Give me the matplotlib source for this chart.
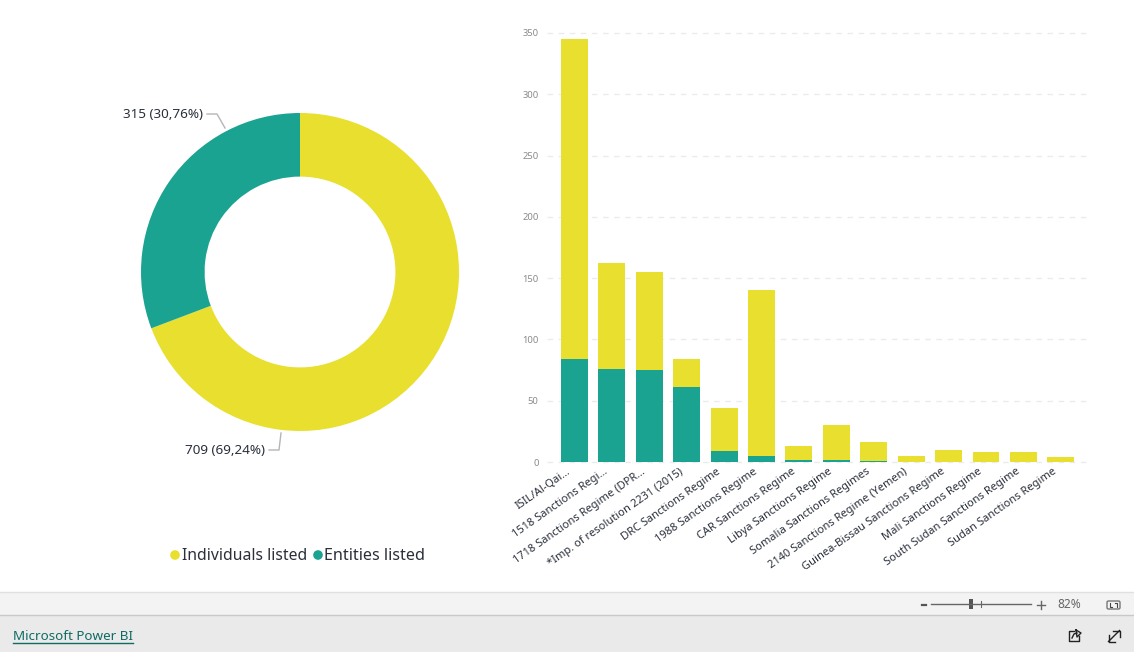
"""Power BI sanctions dashboard: donut + stacked columns."""
import matplotlib
matplotlib.use("Agg")
import matplotlib.pyplot as plt
from matplotlib.patches import FancyBboxPatch
from matplotlib.patches import Rectangle
from matplotlib.transforms import ScaledTranslation

plt.rcParams["font.family"] = ["Noto Sans", "DejaVu Sans"]

W, H = 1134, 652
YELLOW = "#E9DF2F"
TEAL = "#1BA392"
TEXT = "#2a2f3a"

regimes = [
    "ISIL/Al-Qai...", "1518 Sanctions Regi...", "1718 Sanctions Regime (DPR...",
    "*Imp. of resolution 2231 (2015)", "DRC Sanctions Regime", "1988 Sanctions Regime",
    "CAR Sanctions Regime", "Libya Sanctions Regime", "Somalia Sanctions Regimes",
    "2140 Sanctions Regime (Yemen)", "Guinea-Bissau Sanctions Regime", "Mali Sanctions Regime",
    "South Sudan Sanctions Regime", "Sudan Sanctions Regime",
]
entities = [84, 76, 75, 61, 9, 5, 2, 2, 1, 0, 0, 0, 0, 0]
individuals = [261, 86, 80, 23, 35, 135, 11, 28, 15, 5, 10, 8, 8, 4]
y_ticks = [0, 50, 100, 150, 200, 250, 300, 350]

donut_values = [709, 315]
donut_labels = ["709 (69,24%)", "315 (30,76%)"]
donut_names = ["Individuals listed", "Entities listed"]


def px_axes(fig, left, top, right, bottom):
    return fig.add_axes([left / W, 1 - bottom / H, (right - left) / W, (bottom - top) / H])


fig = plt.figure(figsize=(W / 100, H / 100), dpi=100, facecolor="white")

# overlay in pixel coords for chrome, legend and leader lines
ov = fig.add_axes([0, 0, 1, 1], zorder=5)
ov.set_xlim(0, W)
ov.set_ylim(H, 0)
ov.axis("off")

# donut
ax = px_axes(fig, 141, 112.5, 459, 431.5)
ax.pie(donut_values, colors=[YELLOW, TEAL], startangle=90, counterclock=False, radius=1.0,
       wedgeprops={"width": 0.4})
ax.set_xlim(-1, 1)
ax.set_ylim(-1, 1)

ov.plot([207, 217, 225], [114, 114, 128], color="#b5b5b5", lw=1)
ov.plot([269, 279, 281], [450, 450, 433], color="#b5b5b5", lw=1)
ov.text(203, 114, donut_labels[1], ha="right", va="center", fontsize=9.7, color=TEXT)
ov.text(265, 451, donut_labels[0], ha="right", va="center", fontsize=9.7, color=TEXT)

# legend
ov.scatter([175, 318], [555, 555], s=48, color=[YELLOW, TEAL], linewidths=0)
ov.text(182, 556, donut_names[0], ha="left", va="center", fontsize=11.3, color=TEXT)
ov.text(324, 556, donut_names[1], ha="left", va="center", fontsize=11.6, color=TEXT)

# columns
bx = px_axes(fig, 547, 33, 1090, 462)
x = list(range(len(regimes)))
bx.bar(x, entities, width=0.72, color=TEAL, zorder=3)
bx.bar(x, individuals, width=0.72, bottom=entities, color=YELLOW, zorder=3)
bx.set_xlim(-0.735, 13.78)
bx.set_ylim(0, 350)
bx.set_yticks(y_ticks)
bx.set_yticklabels([str(t) for t in y_ticks], fontsize=6.8, color="#8a8a8a")
bx.set_xticks(x)
bx.set_xticklabels(regimes, rotation=35, ha="right", rotation_mode="anchor",
                   fontsize=8.0, color=TEXT)
bx.tick_params(axis="both", length=0)
bx.tick_params(axis="x", pad=3)
bx.tick_params(axis="y", pad=6)
bx.grid(axis="y", color="#ebebeb", lw=1, ls=(0, (4, 4)), zorder=0)
bx.set_axisbelow(True)
for s in bx.spines.values():
    s.set_visible(False)
for gl in bx.get_ygridlines():
    gl.set_clip_on(False)

# reference labels end a little left of the column centre
shift = ScaledTranslation(-8 / 100, 0, fig.dpi_scale_trans)
for lab in bx.get_xticklabels():
    lab.set_transform(lab.get_transform() + shift)

# bottom chrome
ov.add_patch(Rectangle((0, 592), W, 23, fc="#f3f3f3", ec="none"))
ov.add_patch(Rectangle((0, 615), W, 37, fc="#eaeaea", ec="none"))
ov.plot([0, W], [592, 592], color="#e0e0e0", lw=1)
ov.plot([0, W], [615, 615], color="#c8c8c8", lw=1)

ov.text(13, 636, "Microsoft Power BI", ha="left", va="center", fontsize=9.7, color="#0f6b63")
ov.plot([13, 133], [643, 643], color="#0f6b63", lw=1)

# zoom control
ov.plot([931, 1031], [604, 604], color="#666666", lw=1)
ov.plot([981, 981], [601, 607], color="#666666", lw=0.8)
ov.add_patch(Rectangle((969, 599), 4, 10, fc="#555555", ec="none"))
ov.plot([922, 926], [605, 605], color="#555555", lw=1.6)
ov.plot([1037, 1045], [604.5, 604.5], color="#666666", lw=1)
ov.plot([1041, 1041], [600.5, 608.5], color="#666666", lw=1)
ov.text(1069, 604.5, "82%", ha="center", va="center", fontsize=8.6, color="#666666")

# fit-to-page icon
ov.add_patch(FancyBboxPatch((1107, 601), 13, 8, boxstyle="round,pad=0,rounding_size=1.5",
                            fc="none", ec="#777777", lw=1))
ov.plot([1110, 1110, 1112], [603, 607, 607], color="#444444", lw=0.8)
ov.plot([1115, 1117, 1117], [603, 603, 607], color="#444444", lw=0.8)

# share icon
ov.plot([1074, 1069, 1069, 1079, 1079], [631, 631, 641, 641, 636], color="#222222", lw=1)
ov.plot([1072, 1074, 1077], [638, 634, 633], color="#222222", lw=1)
ov.plot([1076, 1081, 1077, 1076], [630, 633, 637, 630], color="#222222", lw=1)

# expand icon
ov.plot([1108.5, 1119.5], [641.5, 630.5], color="#222222", lw=1)
ov.plot([1113, 1119.5, 1119.5], [630.5, 630.5, 637], color="#222222", lw=1)
ov.plot([1108.5, 1108.5, 1115], [635, 641.5, 641.5], color="#222222", lw=1)

fig.savefig("out.png", dpi=100)
